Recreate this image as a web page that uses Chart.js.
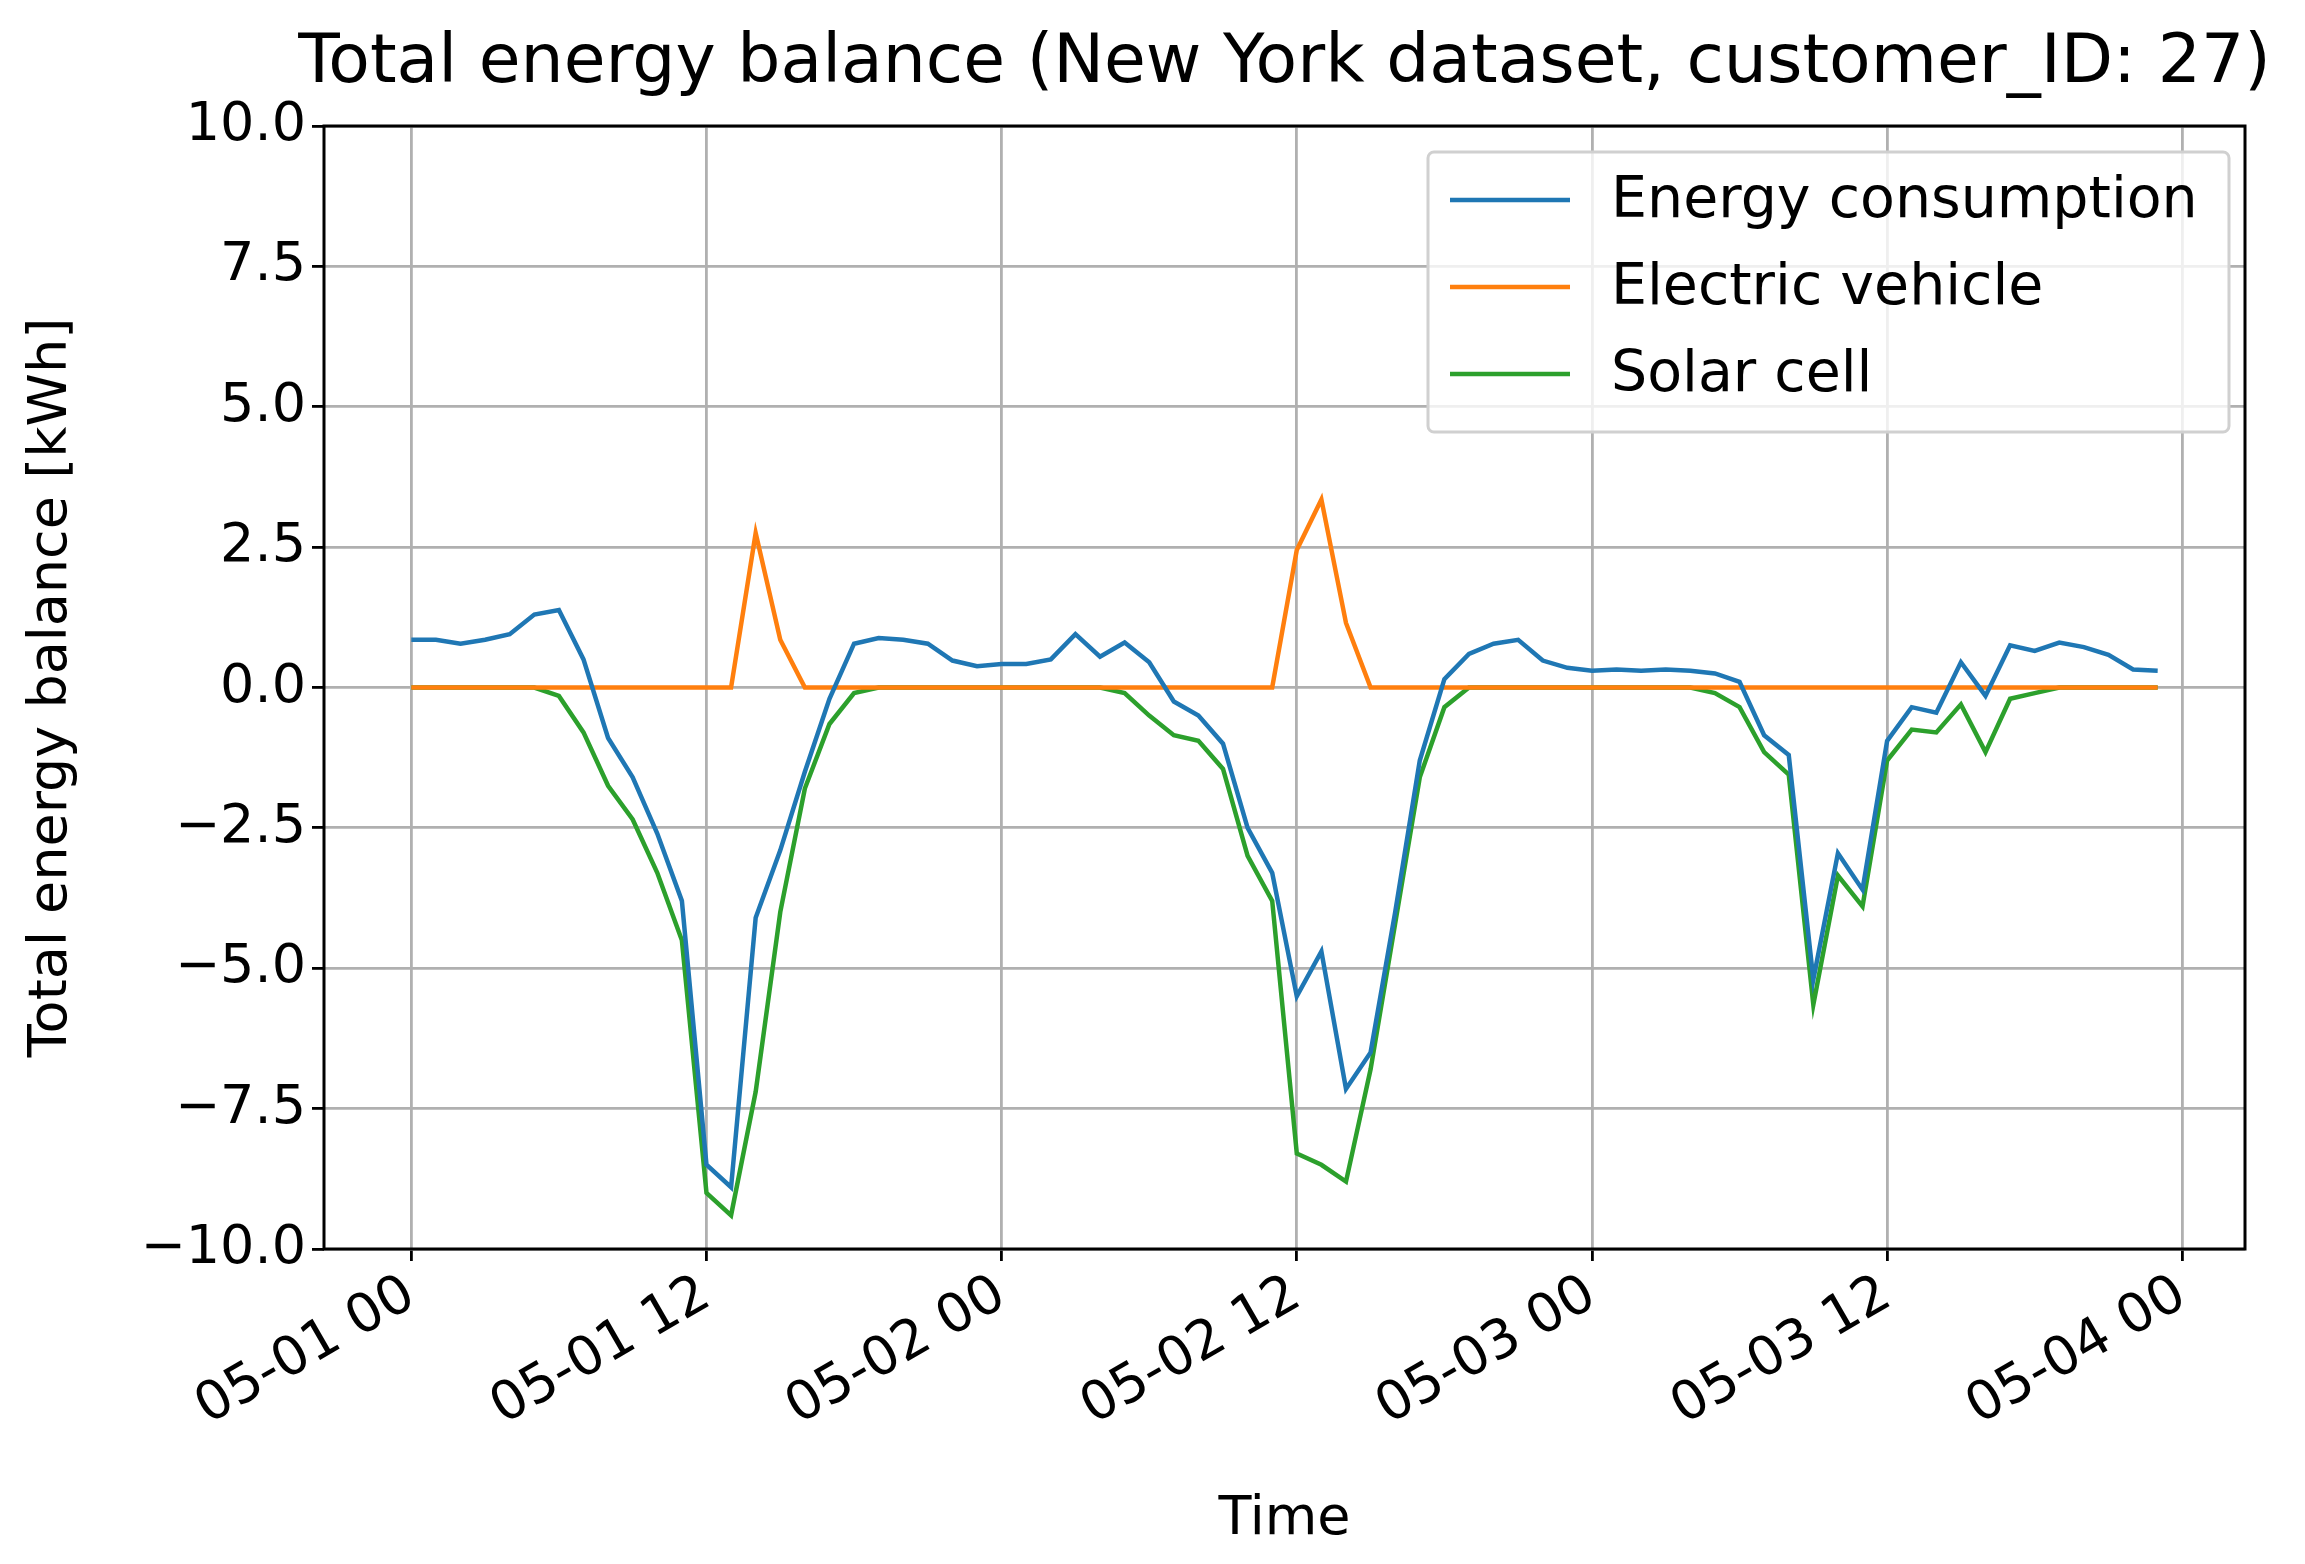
<!DOCTYPE html>
<html><head><meta charset="utf-8">
<script src="https://cdn.jsdelivr.net/npm/chart.js@4"></script>
<style>html,body{margin:0;padding:0;background:#fff}</style>
</head><body>
<canvas id="c" width="2305" height="1564"></canvas>
<script>
const hours = Array.from({length:72},(_,i)=>i);
const tickLabels = ['05-01 00','05-01 12','05-02 00','05-02 12','05-03 00','05-03 12','05-04 00'];
const consumption = [0.85,0.85,0.78,0.85,0.95,1.3,1.38,0.5,-0.9,-1.6,-2.6,-3.8,-8.5,-8.9,-4.1,-2.9,-1.5,-0.2,0.78,0.88,0.85,0.78,0.48,0.38,0.42,0.42,0.5,0.95,0.55,0.8,0.45,-0.25,-0.5,-1.0,-2.5,-3.3,-5.5,-4.7,-7.15,-6.5,-4.0,-1.3,0.15,0.6,0.78,0.85,0.48,0.35,0.3,0.32,0.3,0.32,0.3,0.25,0.1,-0.85,-1.2,-5.2,-2.95,-3.6,-0.95,-0.35,-0.45,0.45,-0.15,0.75,0.65,0.8,0.72,0.58,0.32,0.3];
const ev = [0,0,0,0,0,0,0,0,0,0,0,0,0,0,2.75,0.85,0,0,0,0,0,0,0,0,0,0,0,0,0,0,0,0,0,0,0,0,2.45,3.35,1.15,0,0,0,0,0,0,0,0,0,0,0,0,0,0,0,0,0,0,0,0,0,0,0,0,0,0,0,0,0,0,0,0,0];
const solar = [0,0,0,0,0,0,-0.15,-0.8,-1.75,-2.35,-3.3,-4.5,-9.0,-9.4,-7.2,-4.0,-1.8,-0.65,-0.1,0,0,0,0,0,0,0,0,0,0,-0.1,-0.5,-0.85,-0.95,-1.45,-3.0,-3.8,-8.3,-8.5,-8.8,-6.8,-4.2,-1.6,-0.35,0,0,0,0,0,0,0,0,0,0,-0.1,-0.35,-1.15,-1.55,-5.65,-3.35,-3.9,-1.3,-0.75,-0.8,-0.3,-1.15,-0.2,-0.1,0,0,0,0,0];
const yTicks = [-10,-7.5,-5,-2.5,0,2.5,5,7.5,10];
const F = 'DejaVu Sans';
const mk=(label,data,color)=>({label,data:hours.map((h,i)=>({x:h,y:data[i]})),borderColor:color,backgroundColor:color,borderWidth:4.5,pointRadius:0,tension:0});
const overlay={id:'overlay',afterDraw(ch){
  const c=ch.ctx,a=ch.chartArea;
  c.save();
  c.fillStyle='#000';c.font='68px '+F;c.textAlign='center';c.textBaseline='middle';
  c.fillText('Total energy balance (New York dataset, customer_ID: 27)',(a.left+a.right)/2,64);
  c.strokeStyle='#000';c.lineWidth=3;c.strokeRect(a.left,a.top,a.right-a.left,a.bottom-a.top);
  const x0=1428,y0=152,w=801,h=280;
  c.fillStyle='rgba(255,255,255,0.8)';c.strokeStyle='#d0d0d0';c.lineWidth=3;
  c.beginPath();c.roundRect(x0,y0,w,h,6);c.fill();c.stroke();
  c.font='57px '+F;c.textAlign='left';
  ch.data.datasets.forEach((d,i)=>{
    const yy=y0+48+i*87;
    c.strokeStyle=d.borderColor;c.lineWidth=4.5;
    c.beginPath();c.moveTo(x0+22,yy);c.lineTo(x0+142,yy);c.stroke();
    c.fillStyle='#000';c.fillText(d.label,x0+183,yy+2);
  });
  c.restore();
}};
new Chart(document.getElementById('c'),{
  type:'line',
  data:{datasets:[mk('Energy consumption',consumption,'#1f77b4'),mk('Electric vehicle',ev,'#ff7f0e'),mk('Solar cell',solar,'#2ca02c')]},
  options:{responsive:false,animation:false,devicePixelRatio:1,
    layout:{padding:{top:126,right:60,left:0,bottom:0}},
    plugins:{legend:{display:false},title:{display:false},tooltip:{enabled:false}},
    scales:{
      x:{type:'linear',min:-3.55,max:74.55,
        afterBuildTicks(s){s.ticks=[0,12,24,36,48,60,72].map(v=>({value:v}));},
        afterFit(s){s.height=315;},
        grid:{color:'#b0b0b0',lineWidth:2.8,tickColor:'#000',tickLength:12},
        border:{display:false},
        ticks:{maxRotation:30,minRotation:30,color:'#000',font:{family:F,size:54},padding:2,
          callback:(v)=>tickLabels[v/12]},
        title:{display:true,text:'Time',color:'#000',font:{family:F,size:54},padding:{top:0,bottom:12}}},
      y:{min:-10,max:10,
        afterBuildTicks(s){s.ticks=yTicks.map(v=>({value:v}));},
        afterFit(s){s.width=324;},
        grid:{color:'#b0b0b0',lineWidth:2.8,tickColor:'#000',tickLength:12},
        border:{display:false},
        ticks:{color:'#000',font:{family:F,size:54},padding:6,
          callback:(v)=>v.toFixed(1).replace('-','\u2212')},
        title:{display:true,text:'Total energy balance [kWh]',color:'#000',font:{family:F,size:54},padding:{top:20,bottom:0}}}
    }},
  plugins:[overlay]
});
</script>
</body></html>
